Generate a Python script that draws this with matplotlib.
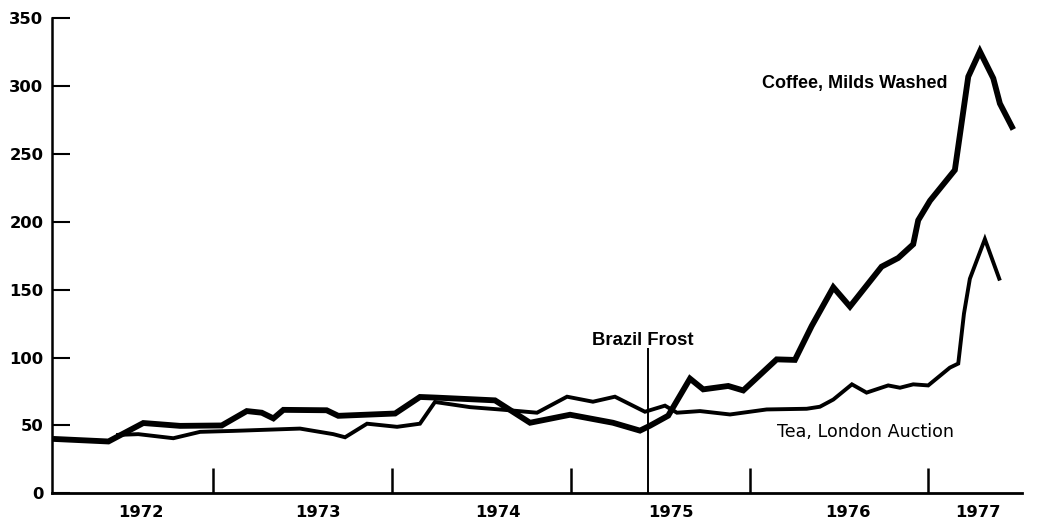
import matplotlib
matplotlib.use("Agg")
import matplotlib.pyplot as plt
import matplotlib.transforms as mtransforms

# ---- data (x in decimal years, values in index units) ----
coffee_x = [1972.103, 1972.413, 1972.608, 1972.814, 1973.047, 1973.187, 1973.271,
            1973.336, 1973.392, 1973.634, 1973.699, 1974.017, 1974.156, 1974.251,
            1974.576, 1974.772, 1974.996, 1975.236, 1975.387, 1975.443, 1975.545,
            1975.667, 1975.741, 1975.881, 1975.965, 1976.152, 1976.254, 1976.348,
            1976.469, 1976.562, 1976.739, 1976.832, 1976.916, 1976.944, 1977.010,
            1977.149, 1977.224, 1977.289, 1977.364, 1977.401, 1977.476]
coffee_y = [40.1, 38.2, 51.8, 49.7, 50.0, 60.6, 59.4,
            55.2, 61.5, 61.2, 57.1, 58.8, 71.0, 70.5,
            68.5, 52.0, 57.9, 52.0, 46.2, 49.8, 57.2,
            84.5, 76.6, 79.1, 75.8, 98.7, 98.3, 123.3,
            151.8, 137.6, 167.0, 173.4, 183.5, 201.2, 215.6,
            238.2, 307.0, 325.6, 305.8, 287.2, 268.1]

tea_x = [1972.456, 1972.580, 1972.776, 1972.926, 1973.112, 1973.485, 1973.671,
         1973.737, 1973.860, 1974.028, 1974.156, 1974.240, 1974.436, 1974.621,
         1974.811, 1974.979, 1975.124, 1975.247, 1975.415, 1975.527, 1975.594,
         1975.723, 1975.891, 1976.096, 1976.320, 1976.394, 1976.469, 1976.573,
         1976.655, 1976.776, 1976.842, 1976.916, 1977.000, 1977.121, 1977.168,
         1977.200, 1977.233, 1977.317, 1977.401]
tea_y = [43.0, 43.6, 40.6, 45.3, 46.0, 47.7, 43.6,
         41.3, 51.3, 49.0, 51.3, 67.3, 63.5, 61.6,
         59.4, 71.2, 67.5, 71.2, 60.1, 64.6, 59.4,
         60.6, 58.1, 61.8, 62.3, 63.8, 69.1, 80.3,
         74.2, 79.5, 77.8, 80.3, 79.5, 92.6, 95.6,
         132.4, 158.1, 187.3, 156.8]

year_labels = ["1972", "1973", "1974", "1975", "1976", "1977"]
year_label_pos = [1972.596, 1973.583, 1974.593, 1975.561, 1976.548, 1977.278]
year_ticks = [1973, 1974, 1975, 1976, 1977]
y_ticks = [0, 50, 100, 150, 200, 250, 300, 350]

frost_x = 1975.430
frost_top = 107

# ---- figure ----
fig = plt.figure(figsize=(10.4, 5.2), dpi=100)
ax = fig.add_axes([0.0503, 0.0513, 0.9321, 0.9135])

ax.plot(coffee_x, coffee_y, color="black", lw=4.2, solid_joinstyle="miter",
        solid_capstyle="butt")
ax.plot(tea_x, tea_y, color="black", lw=2.8, solid_joinstyle="miter",
        solid_capstyle="butt")

ax.vlines(frost_x, 0, frost_top, color="black", lw=1.4)

ax.set_xlim(1972.099, 1977.523)
ax.set_ylim(0, 350)

for s in ["top", "right"]:
    ax.spines[s].set_visible(False)
ax.spines["left"].set_linewidth(1.8)
ax.spines["bottom"].set_linewidth(2.0)

ax.set_yticks(y_ticks)
ax.set_yticklabels([str(v) for v in y_ticks], fontfamily="DejaVu Sans",
                   fontweight="bold", fontsize=11.8)
ax.tick_params(axis="y", direction="in", length=13, width=1.5, pad=6.5)

ax.set_xticks(year_ticks)
ax.set_xticklabels([])
ax.tick_params(axis="x", direction="in", length=18, width=1.8)

trans = mtransforms.blended_transform_factory(ax.transData, ax.transAxes)
for lab, pos in zip(year_labels, year_label_pos):
    ax.text(pos, -0.0505, lab, transform=trans, ha="center", va="baseline",
            fontfamily="DejaVu Sans", fontweight="bold", fontsize=11.8)

ax.text(1976.068, 298.3, "Coffee, Milds Washed", ha="left", va="baseline",
        fontfamily="Liberation Sans", fontweight="bold", fontsize=13)
ax.text(1976.152, 41.7, "Tea, London Auction", ha="left", va="baseline",
        fontfamily="DejaVu Sans", fontsize=12.6)
ax.text(1975.401, 109.3, "Brazil Frost", ha="center", va="baseline",
        fontfamily="Liberation Sans", fontweight="bold", fontsize=13.3)

fig.savefig("out.png", dpi=100)
